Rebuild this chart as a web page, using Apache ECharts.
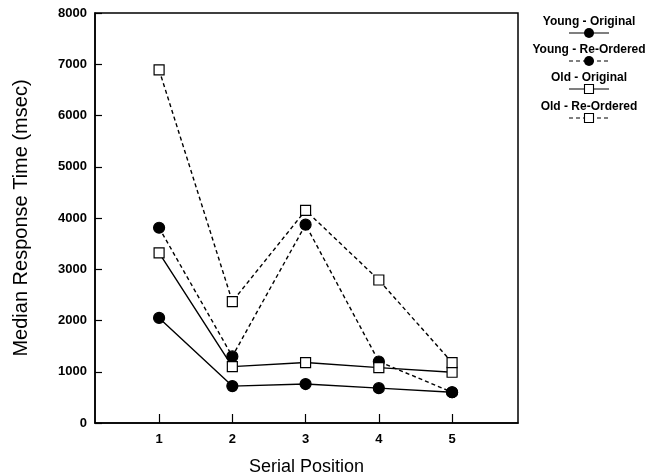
<!DOCTYPE html>
<html>
<head>
<meta charset="utf-8">
<script src="https://cdn.jsdelivr.net/npm/echarts@6/dist/echarts.min.js"></script>
<style>
html,body{margin:0;padding:0;background:#fff;}
#chart{width:650px;height:476px;}
</style>
</head>
<body>
<div id="chart"></div>
<script>
const positions = [1, 2, 3, 4, 5];
const yTicks = [0, 1000, 2000, 3000, 4000, 5000, 6000, 7000, 8000];
const seriesNames = ['Young - Original', 'Young - Re-Ordered', 'Old - Original', 'Old - Re-Ordered'];
const youngOriginal = [2050, 720, 760, 680, 600];
const youngReordered = [3810, 1300, 3870, 1200, 600];
const oldOriginal = [3320, 1100, 1180, 1080, 990];
const oldReordered = [6890, 2370, 4150, 2790, 1180];

const FONT = '"Liberation Sans", Arial, Helvetica, sans-serif';
const values = [youngOriginal, youngReordered, oldOriginal, oldReordered];
const styles = [
  {symbol: 'circle', size: 11, dashed: false, fill: '#000'},
  {symbol: 'circle', size: 11, dashed: true, fill: '#000'},
  {symbol: 'rect', size: 10, dashed: false, fill: '#fff'},
  {symbol: 'rect', size: 10, dashed: true, fill: '#fff'}
];

const series = seriesNames.map((name, i) => ({
  name: name,
  type: 'line',
  data: positions.map((p, j) => [p, values[i][j]]),
  symbol: styles[i].symbol,
  symbolSize: styles[i].size,
  showAllSymbol: true,
  lineStyle: {color: '#000', width: 1.4, type: styles[i].dashed ? [4, 3] : 'solid'},
  itemStyle: {color: styles[i].fill, borderColor: '#000', borderWidth: 1.2},
  emphasis: {disabled: true},
  z: styles[i].symbol === 'rect' ? 3 : 2
}));

// legend drawn as graphics (text above a line sample)
const legendTop = [22, 50, 78, 107];
const legendGraphics = [];
seriesNames.forEach((name, i) => {
  const cx = 589, ty = legendTop[i], ly = ty + 11;
  legendGraphics.push({
    type: 'text', x: cx, y: ty,
    style: {text: name, font: 'bold 12px ' + FONT, fill: '#000', align: 'center', verticalAlign: 'middle'}
  });
  legendGraphics.push({
    type: 'line', shape: {x1: cx - 20, y1: ly, x2: cx + 20, y2: ly},
    style: {stroke: '#000', lineWidth: 1.2, lineDash: styles[i].dashed ? [4, 3] : null}
  });
  if (styles[i].symbol === 'circle') {
    legendGraphics.push({type: 'circle', shape: {cx: cx, cy: ly, r: 5}, style: {fill: '#000'}});
  } else {
    legendGraphics.push({type: 'rect', shape: {x: cx - 4.5, y: ly - 4.5, width: 9, height: 9},
      style: {fill: '#fff', stroke: '#000', lineWidth: 1.1}});
  }
});

const chart = echarts.init(document.getElementById('chart'), null, {renderer: 'canvas'});
chart.setOption({
  animation: false,
  backgroundColor: '#fff',
  grid: {left: 95, right: 132, top: 13, bottom: 53, outerBoundsMode: 'none', containLabel: false,
    show: true, borderColor: '#000', borderWidth: 1.5, backgroundColor: 'transparent'},
  xAxis: {
    type: 'value', min: 0.125, max: 5.9,
    name: 'Serial Position', nameLocation: 'middle', nameGap: 35,
    nameTextStyle: {fontFamily: FONT, fontSize: 18, color: '#000'},
    axisLine: {lineStyle: {color: '#000', width: 1.5}},
    axisTick: {inside: true, length: 9, customValues: positions, lineStyle: {color: '#000', width: 1.2}},
    axisLabel: {customValues: positions, color: '#000', fontFamily: FONT, fontWeight: 'bold', fontSize: 13, margin: 10},
    splitLine: {show: false}
  },
  yAxis: {
    type: 'value', min: 0, max: 8000, interval: 1000,
    name: 'Median Response Time (msec)', nameLocation: 'middle', nameGap: 64,
    nameTextStyle: {fontFamily: FONT, fontSize: 20, color: '#000'},
    axisLine: {show: true, lineStyle: {color: '#000', width: 1.5}},
    axisTick: {inside: true, length: 7, customValues: yTicks, lineStyle: {color: '#000', width: 1.2}},
    axisLabel: {customValues: yTicks, formatter: v => String(v), color: '#000', fontFamily: FONT, fontWeight: 'bold', fontSize: 13, margin: 8},
    splitLine: {show: false}
  },
  graphic: legendGraphics,
  series: series
});
</script>
</body>
</html>
